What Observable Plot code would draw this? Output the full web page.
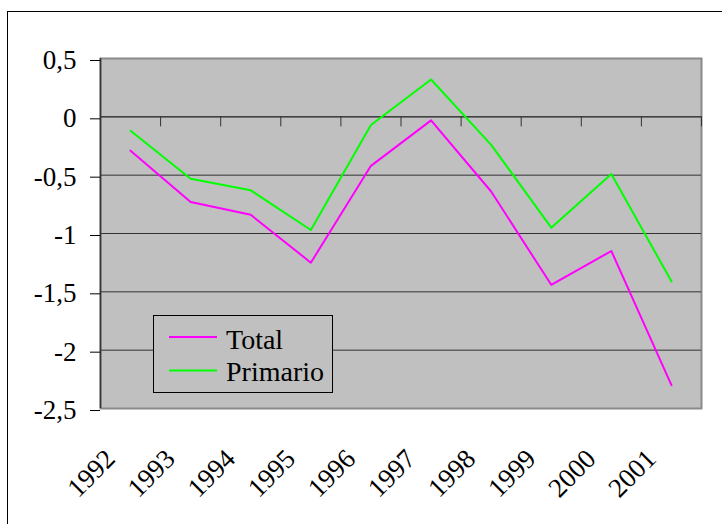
<!DOCTYPE html>
<html>
<head>
<meta charset="utf-8">
<script src="https://cdn.jsdelivr.net/npm/d3@7"></script>
<script src="https://cdn.jsdelivr.net/npm/@observablehq/plot@0.6"></script>
<style>
html, body { margin: 0; padding: 0; background: #fff; overflow: hidden; }
#wrap { position: relative; width: 722px; height: 524px; }
#border { position: absolute; left: 7px; top: 11px; width: 800px; height: 600px; border: 1px solid #000; box-sizing: border-box; pointer-events: none; }
svg text { font-family: "Liberation Serif", Tinos, "Times New Roman", serif; }
</style>
</head>
<body>
<div id="wrap"><div id="border"></div></div>
<script>
// ---- data ----
const years = [1992, 1993, 1994, 1995, 1996, 1997, 1998, 1999, 2000, 2001];
const total = [-0.29, -0.73, -0.84, -1.25, -0.42, -0.03, -0.64, -1.44, -1.15, -2.30];
const primario = [-0.12, -0.53, -0.63, -0.97, -0.07, 0.32, -0.24, -0.95, -0.49, -1.41];
const seriesNames = ["Total", "Primario"];
const seriesColors = ["#ff00ff", "#00ff00"];
const yTicks = [-2.5, -2, -1.5, -1, -0.5, 0, 0.5];

const seriesValues = [total, primario];
const data = seriesNames.flatMap((name, s) =>
  years.map((yr, i) => ({year: yr, value: seriesValues[s][i], series: name})));
const boundaries = [...years.map(y => y - 0.5), years[years.length - 1] + 0.5];
const xDomain = [boundaries[0], boundaries[boundaries.length - 1]];
const font = '"Liberation Serif", Tinos, "Times New Roman", serif';

const chart = Plot.plot({
  width: 722, height: 524,
  marginLeft: 100, marginRight: 21, marginTop: 58, marginBottom: 116,
  style: {fontFamily: font, fontSize: "27px", color: "#000", background: "transparent", overflow: "visible"},
  x: {domain: xDomain, axis: null},
  y: {domain: [yTicks[0], yTicks[yTicks.length - 1]], axis: null},
  color: {domain: seriesNames, range: seriesColors},
  marks: [
    Plot.frame({fill: "#c0c0c0", stroke: "#8a8a8a", strokeWidth: 2}),
    Plot.gridY(yTicks.slice(1, -1), {stroke: "#333", strokeOpacity: 1}),
    Plot.ruleY([0], {stroke: "#333"}),
    Plot.ruleX(boundaries, {y1: 0, y2: 0, insetBottom: -10, stroke: "#333"}),
    Plot.ruleX([xDomain[0]], {stroke: "#333", strokeWidth: 1.5}),
    Plot.axisY(yTicks, {label: null, tickSize: 10, tickPadding: 14,
      tickFormat: d => String(d).replace(".", ","), fontSize: 27, dy: 2}),
    Plot.line(data, {x: "year", y: "value", z: "series", stroke: "series", strokeWidth: 2}),
    Plot.text(years, {x: d => d, text: d => String(d), frameAnchor: "bottom", rotate: -45,
      textAnchor: "end", lineAnchor: "bottom", dx: -14, dy: 52, fontSize: 27})
  ]
});
chart.style.position = "absolute";
chart.style.left = "0px";
chart.style.top = "0px";
document.getElementById("wrap").prepend(chart);

// ---- legend (inside plot area, lower left) ----
const lg = d3.select("#wrap").append("svg")
  .style("position", "absolute").style("left", "153px").style("top", "315px")
  .attr("width", 181).attr("height", 79);
lg.append("rect").attr("x", 0.5).attr("y", 0.5).attr("width", 179).attr("height", 77)
  .attr("fill", "#c0c0c0").attr("stroke", "#000");
seriesNames.forEach((name, i) => {
  const ly = [22, 55.5][i];
  lg.append("line").attr("x1", 16).attr("x2", 64).attr("y1", ly).attr("y2", ly)
    .attr("stroke", seriesColors[i]).attr("stroke-width", 2);
  lg.append("text").attr("x", 73).attr("y", [33.5, 65.5][i])
    .attr("font-family", font).attr("font-size", 28).attr("fill", "#000").text(name);
});
</script>
</body>
</html>
